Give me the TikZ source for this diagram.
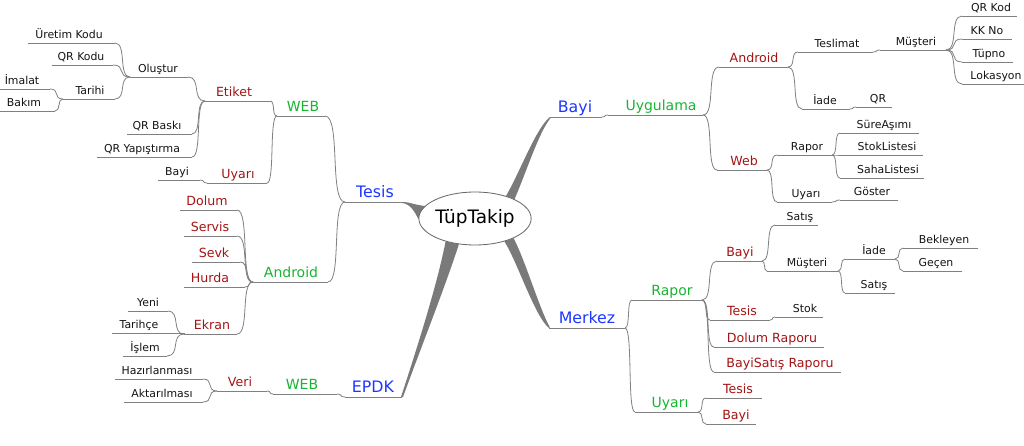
\documentclass[tikz,border=0pt]{standalone}
\usepackage{fontspec}
\setmainfont{DejaVu Sans}
\usetikzlibrary{calc,shapes.geometric,backgrounds}
\definecolor{tblue}{RGB}{30,55,255}
\definecolor{tgreen}{RGB}{25,180,50}
\definecolor{tred}{RGB}{165,20,20}
\definecolor{tblack}{RGB}{20,20,20}
\definecolor{lgray}{RGB}{128,128,128}
\definecolor{bgray}{RGB}{122,122,122}
\newcommand\mmt[7]{%
  \node[#2,anchor=base,inner sep=0pt] (#1) at (#3,#6-4.5) {#7};
  \coordinate (#1L) at (#4,#6);
  \coordinate (#1R) at (#5,#6);
  \draw[ul] (#1L) -- (#1R);}
\tikzset{
  sm/.style={font=\fontsize{10.9}{12}\selectfont, text=tblack},
  rd/.style={font=\fontsize{12.6}{14}\selectfont, text=tred},
  gr/.style={font=\fontsize{14}{16}\selectfont, text=tgreen},
  bl/.style={font=\fontsize{15.8}{18}\selectfont, text=tblue},
  ul/.style={draw=lgray, line width=0.8pt},
  cn/.style={draw=lgray, line width=0.8pt,
    to path={.. controls ($(\tikztostart)!0.8!(\tikztotarget |- \tikztostart)$)
      and ($(\tikztotarget)!0.8!(\tikztostart |- \tikztotarget)$) .. (\tikztotarget) \tikztonodes}},
  br/.style={fill=bgray},
  rootbox/.style={draw=black!60, line width=0.8pt, fill=white, ellipse,
    minimum width=106pt, minimum height=53pt, inner sep=0pt,
    font=\fontsize{18.5}{20}\selectfont, text=black}
}
\begin{document}
\begin{tikzpicture}[x=1pt,y=-1pt]
\useasboundingbox (0,0) rectangle (1024,446);

\node[rootbox] (root) at (475,218.5) {TüpTakip};

% left side
\mmt{tesis}{bl}{375}{345}{402}{202}{Tesis}
\mmt{weba}{gr}{303}{277}{325}{116}{WEB}
\mmt{etiket}{rd}{234}{205}{270}{101}{Etiket}
\mmt{olus}{sm}{158}{130}{188}{77}{Oluştur}
\mmt{urk}{sm}{69}{28}{115}{43}{Üretim Kodu}
\mmt{qrk}{sm}{81}{52}{113}{65}{QR Kodu}
\mmt{tar}{sm}{90}{63}{115}{99}{Tarihi}
\mmt{ima}{sm}{22}{0}{50}{89}{İmalat}
\mmt{bak}{sm}{24}{0}{55}{111}{Bakım}
\mmt{qrb}{sm}{157}{127}{192}{134}{QR Baskı}
\mmt{qry}{sm}{142}{97}{192}{157}{QR Yapıştırma}
\mmt{uya}{rd}{238}{207}{267}{183}{Uyarı}
\mmt{bayis}{sm}{177}{158}{200}{180}{Bayi}
\mmt{andl}{gr}{291}{253}{328}{282}{Android}
\mmt{dol}{rd}{207}{180}{237}{210}{Dolum}
\mmt{ser}{rd}{210}{184}{237}{236}{Servis}
\mmt{sev}{rd}{214}{192}{240}{262}{Sevk}
\mmt{hur}{rd}{210}{184}{245}{287}{Hurda}
\mmt{ekr}{rd}{212}{184}{237}{334}{Ekran}
\mmt{yeni}{sm}{148}{128}{168}{311}{Yeni}
\mmt{tarc}{sm}{139}{112}{184}{333}{Tarihçe}
\mmt{isl}{sm}{145}{123}{167}{356}{İşlem}
\mmt{epdk}{bl}{373}{345}{402}{397}{EPDK}
\mmt{webb}{gr}{302}{273}{337}{394}{WEB}
\mmt{veri}{rd}{240}{217}{267}{391}{Veri}
\mmt{haz}{sm}{157}{115}{203}{379}{Hazırlanması}
\mmt{akt}{sm}{162}{124}{203}{402}{Aktarılması}

% right side
\mmt{bayi}{bl}{575}{550}{602}{117}{Bayi}
\mmt{uyg}{gr}{661}{608}{703}{115}{Uygulama}
\mmt{andr}{rd}{754}{719}{788}{67}{Android}
\mmt{tes}{sm}{837}{798}{873}{52}{Teslimat}
\mmt{mus}{sm}{916}{880}{946}{50}{Müşteri}
\mmt{qrkd}{sm}{991}{962}{1017}{16}{QR Kod}
\mmt{kkn}{sm}{987}{962}{1012}{39}{KK No}
\mmt{tup}{sm}{989}{962}{1013}{62}{Tüpno}
\mmt{lok}{sm}{996}{962}{1024}{84}{Lokasyon}
\mmt{iad}{sm}{825}{802}{850}{109}{İade}
\mmt{qr}{sm}{878}{856}{892}{107}{QR}
\mmt{webr}{rd}{744}{717}{767}{170}{Web}
\mmt{rap}{sm}{807}{777}{832}{155}{Rapor}
\mmt{sure}{sm}{884}{840}{919}{133}{SüreAşımı}
\mmt{stl}{sm}{887}{840}{923}{155}{StokListesi}
\mmt{sahl}{sm}{888}{840}{924}{178}{SahaListesi}
\mmt{uyr}{sm}{806}{777}{832}{202}{Uyarı}
\mmt{gos}{sm}{872}{840}{898}{200}{Göster}
\mmt{mer}{bl}{587}{549}{625}{328}{Merkez}
\mmt{rapg}{gr}{672}{632}{702}{300}{Rapor}
\mmt{uyag}{gr}{670}{635}{698}{412}{Uyarı}
\mmt{tesr}{rd}{738}{706}{762}{398}{Tesis}
\mmt{bayr}{rd}{736}{706}{756}{424}{Bayi}
\mmt{bayb}{rd}{740}{717}{762}{261}{Bayi}
\mmt{sat1}{sm}{800}{775}{818}{225}{Satış}
\mmt{mus2}{sm}{807}{767}{838}{271}{Müşteri}
\mmt{iad2}{sm}{874}{845}{895}{259}{İade}
\mmt{bek}{sm}{944}{903}{978}{248}{Bekleyen}
\mmt{gec}{sm}{936}{903}{962}{271}{Geçen}
\mmt{sat2}{sm}{874}{845}{895}{293}{Satış}
\mmt{tesb}{rd}{742}{710}{770}{320}{Tesis}
\mmt{stok}{sm}{805}{775}{823}{317}{Stok}
\mmt{dolr}{rd}{772}{714}{824}{347}{Dolum Raporu}
\mmt{bsr}{rd}{780}{714}{841}{372}{BayiSatış Raporu}

% left connectors
\draw[cn] (tesisL) to (webaR);
\draw[cn] (webaL) to (etiketR);
\draw[cn] (etiketL) to (olusR);
\draw[cn] (olusL) to (urkR);
\draw[cn] (olusL) to (qrkR);
\draw[cn] (olusL) to (tarR);
\draw[cn] (tarL) to (imaR);
\draw[cn] (tarL) to (bakR);
\draw[cn] (etiketL) to (qrbR);
\draw[cn] (etiketL) to (qryR);
\draw[cn] (webaL) to (uyaR);
\draw[cn] (uyaL) to (bayisR);
\draw[cn] (tesisL) to (andlR);
\draw[cn] (andlL) to (dolR);
\draw[cn] (andlL) to (serR);
\draw[cn] (andlL) to (sevR);
\draw[cn] (andlL) to (hurR);
\draw[cn] (andlL) to (ekrR);
\draw[cn] (ekrL) to (yeniR);
\draw[cn] (ekrL) to (tarcR);
\draw[cn] (ekrL) to (islR);
\draw[cn] (epdkL) to (webbR);
\draw[cn] (webbL) to (veriR);
\draw[cn] (veriL) to (hazR);
\draw[cn] (veriL) to (aktR);

% right connectors
\draw[cn] (bayiR) to (uygL);
\draw[cn] (uygR) to (andrL);
\draw[cn] (andrR) to (tesL);
\draw[cn] (tesR) to (musL);
\draw[cn] (musR) to (qrkdL);
\draw[cn] (musR) to (kknL);
\draw[cn] (musR) to (tupL);
\draw[cn] (musR) to (lokL);
\draw[cn] (andrR) to (iadL);
\draw[cn] (iadR) to (qrL);
\draw[cn] (uygR) to (webrL);
\draw[cn] (webrR) to (rapL);
\draw[cn] (rapR) to (sureL);
\draw[cn] (rapR) to (stlL);
\draw[cn] (rapR) to (sahlL);
\draw[cn] (webrR) to (uyrL);
\draw[cn] (uyrR) to (gosL);
\draw[cn] (merR) to (rapgL);
\draw[cn] (merR) to (uyagL);
\draw[cn] (uyagR) to (tesrL);
\draw[cn] (uyagR) to (bayrL);
\draw[cn] (rapgR) to (baybL);
\draw[cn] (baybR) to (sat1L);
\draw[cn] (baybR) to (mus2L);
\draw[cn] (mus2R) to (iad2L);
\draw[cn] (iad2R) to (bekL);
\draw[cn] (iad2R) to (gecL);
\draw[cn] (mus2R) to (sat2L);
\draw[cn] (rapgR) to (tesbL);
\draw[cn] (tesbR) to (stokL);
\draw[cn] (rapgR) to (dolrL);
\draw[cn] (rapgR) to (bsrL);

% thick main branches
\begin{scope}[on background layer]
\fill[white] (0,0) rectangle (1024,446);
\fill[br] (root.36) .. controls (520,172) and (536,128) .. (bayiL)
  -- ($(bayiL)+(0.5,1)$) .. controls (538.5,133) and (526,173) .. (root.26) -- cycle;
\fill[br] (root.166) .. controls (415,205) and (410,202) .. (tesisR)
  -- ($(tesisR)+(0,1)$) .. controls (410,203.5) and (415,212) .. (root.181) -- cycle;
\fill[br] (root.-38) .. controls (517,261) and (535,317) .. (merL)
  -- ($(merL)+(0.8,-0.8)$) .. controls (539.5,309) and (525.5,261) .. (root.-27) -- cycle;
\fill[br] (root.-142) .. controls (437,285) and (418,345) .. ($(epdkR)+(-1,0)$)
  -- ($(epdkR)+(1,0)$) .. controls (420,350) and (444,290) .. (root.-122) -- cycle;
\end{scope}
\end{tikzpicture}
\end{document}
